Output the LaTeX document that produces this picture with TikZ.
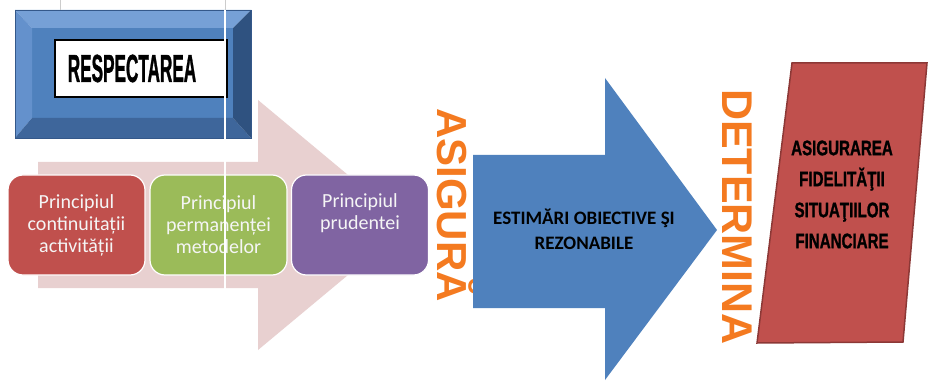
\documentclass[tikz,border=0pt]{standalone}
\usepackage{fontspec}
\setmainfont{Carlito}
\newfontfamily\arialfont{Liberation Sans}
\newfontfamily\heavyfont{Liberation Sans}[FakeBold=1.5]
\definecolor{pinkarrow}{RGB}{232,208,208}
\definecolor{bluefill}{RGB}{79,129,189}
\definecolor{bevtop}{RGB}{118,160,214}
\definecolor{bevleft}{RGB}{100,145,204}
\definecolor{bevbottom}{RGB}{62,102,155}
\definecolor{bevright}{RGB}{47,82,128}
\definecolor{bevline}{RGB}{52,88,138}
\definecolor{redfill}{RGB}{192,80,77}
\definecolor{redline}{RGB}{140,56,54}
\definecolor{greenfill}{RGB}{155,187,89}
\definecolor{purplefill}{RGB}{128,100,162}
\definecolor{orangetxt}{RGB}{244,122,32}
\definecolor{lighttxt}{RGB}{245,245,245}
\begin{document}
\begin{tikzpicture}[x=1pt,y=-1pt,
  principle/.style={draw=white, line width=1.2pt, rounded corners=15pt,
    minimum width=137pt, minimum height=100pt, inner sep=0pt},
  principletext/.style={text=lighttxt, align=center,
    font=\fontsize{20}{22}\selectfont},
  verb/.style={rotate=-90, anchor=base, text=orangetxt,
    font=\arialfont\bfseries\fontsize{42}{42}\selectfont},
  boldtext/.style={align=center, text=black}]
\useasboundingbox (0,0) rectangle (928,382);
\fill[white] (0,0) rectangle (928,382);

% big pink background arrow
\fill[pinkarrow] (38,162) -- (258,162) -- (258,100) -- (408,225)
  -- (258,350) -- (258,288) -- (38,288) -- cycle;

% bevelled blue box
\fill[bluefill] (32,28) rectangle (233,118);
\fill[bevtop] (15,10) -- (251,10) -- (233,28) -- (32,28) -- cycle;
\fill[bevleft] (15,10) -- (32,28) -- (32,118) -- (15,138) -- cycle;
\fill[bevbottom] (15,138) -- (32,118) -- (233,118) -- (251,138) -- cycle;
\fill[bevright] (251,10) -- (233,28) -- (233,118) -- (251,138) -- cycle;
\draw[bevline, line width=0.8pt] (15,10) rectangle (251,138);
\node[draw=black, line width=2pt, fill=white, minimum width=172pt,
  minimum height=57pt, inner sep=0pt] (respbox) at (141,68.5) {};
\node[inner sep=0pt, font=\heavyfont\bfseries\fontsize{39}{39}\selectfont] (resp) at (132,68.5)
  {\scalebox{0.44}[1]{RESPECTAREA}};

% three principles
\node[principle, fill=redfill] (p1) at (76.5,225) {};
\node[principletext] (p1t) at (p1.center) {Principiul\\continuitații\\activității};
\node[principle, fill=greenfill] (p2) at (218.5,225) {};
\node[principletext] (p2t) at (p2.center) {Principiul\\permanenței\\metodelor};
\node[principle, fill=purplefill] (p3) at (360,225) {};
\node[principletext, anchor=north] (p3t) at (360,190) {Principiul\\prudentei};

% artefact lines
\draw[gray!40, line width=0.5pt] (225,0) -- (225,10);
\draw[gray!40, line width=0.5pt] (60,0) -- (60,10);
\draw[white, line width=1.2pt] (225,10) -- (225,290);

% ASIGURA
\node[verb] (asigura) at (437,205) {ASIGURĂ};

% blue arrow
\fill[bluefill] (473,155) -- (605,155) -- (605,78) -- (717,230)
  -- (605,380) -- (605,308) -- (473,308) -- cycle;
\node[boldtext, font=\bfseries\fontsize{19}{25}\selectfont] (estim) at (584,229.5)
  {ESTIMĂRI OBIECTIVE ŞI\\REZONABILE};

% DETERMINA
\node[verb, font=\arialfont\bfseries\fontsize{43}{43}\selectfont] (determina) at (722,217) {DETERMINA};

% red parallelogram
\draw[fill=redfill, draw=redline, line width=1.5pt]
  (792,63) -- (927,63) -- (903,342) -- (757,343) -- cycle;
\node[boldtext, inner sep=0pt, font=\heavyfont\bfseries\fontsize{21}{31}\selectfont] (fidel) at (842,194.5)
  {\scalebox{0.72}[1]{ASIGURAREA}\\\scalebox{0.72}[1]{FIDELITĂŢII}\\
   \scalebox{0.72}[1]{SITUAŢIILOR}\\\scalebox{0.72}[1]{FINANCIARE}};
\end{tikzpicture}
\end{document}
